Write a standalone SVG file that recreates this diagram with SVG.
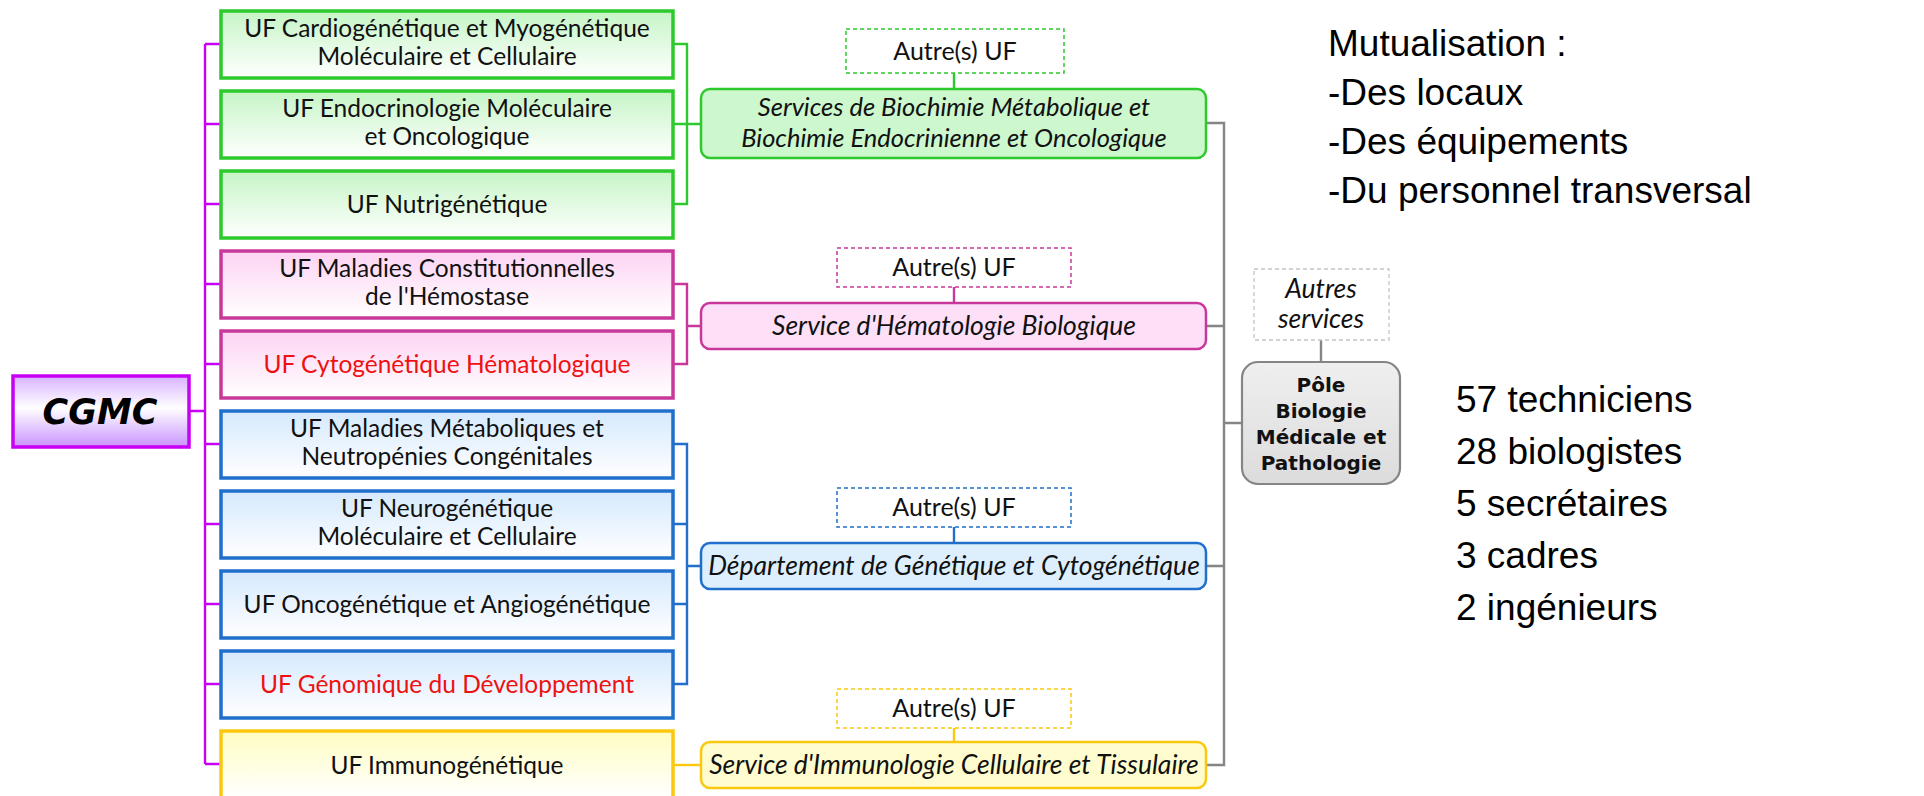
<svg xmlns="http://www.w3.org/2000/svg" width="1924" height="796" viewBox="0 0 1924 796">
<defs>
<linearGradient id="gGreen" x1="0" y1="0" x2="0" y2="1"><stop offset="0" stop-color="#C6F5C6"/><stop offset="1" stop-color="#FFFFFF"/></linearGradient>
<linearGradient id="gPink" x1="0" y1="0" x2="0" y2="1"><stop offset="0" stop-color="#FDD3F3"/><stop offset="1" stop-color="#FFFFFF"/></linearGradient>
<linearGradient id="gBlue" x1="0" y1="0" x2="0" y2="1"><stop offset="0" stop-color="#D5E9FD"/><stop offset="1" stop-color="#FFFFFF"/></linearGradient>
<linearGradient id="gYellow" x1="0" y1="0" x2="0" y2="1"><stop offset="0" stop-color="#FFFDC2"/><stop offset="1" stop-color="#FFFFFF"/></linearGradient>
<linearGradient id="gCGMC" x1="0" y1="0" x2="0" y2="1"><stop offset="0" stop-color="#D8B2FF"/><stop offset="0.45" stop-color="#FFFFFF"/><stop offset="1" stop-color="#C993FF"/></linearGradient>
<linearGradient id="gPole" x1="0" y1="0" x2="0" y2="1"><stop offset="0" stop-color="#EFEFEF"/><stop offset="1" stop-color="#DCDCDC"/></linearGradient>
</defs>
<style>
.uf{stroke-width:3.5}
.ufg{fill:url(#gGreen);stroke:#2DC92D}
.ufp{fill:url(#gPink);stroke:#C8389B}
.ufb{fill:url(#gBlue);stroke:#1F6FCB}
.ufy{fill:url(#gYellow);stroke:#FAC80F}
.t{font-family:Lato,"Open Sans",sans-serif;font-size:24.5px;fill:#111;text-anchor:middle}
.a{font-size:25px}
.red{fill:#EE1111}
.ti{font-family:Lato,"Open Sans",sans-serif;font-style:italic;font-size:26.5px;fill:#111;text-anchor:middle}
.ti2{font-size:25.5px}
.svc{stroke-width:2.5}
.sg{fill:#CDF7CD;stroke:#2DC92D}
.sp{fill:#FDE0F7;stroke:#C8389B}
.sb{fill:#DDEEFD;stroke:#1F6FCB}
.sy{fill:#FFFDCF;stroke:#FAC80F}
.dash{fill:#FFFFFF;stroke-width:1.5;stroke-dasharray:4 3}
.big{font-family:"Liberation Sans",Arial,sans-serif;font-size:37px;fill:#000}
.ln{fill:none;stroke-width:2.4}
.mag{stroke:#C800F5}
.lg{stroke:#2DC92D}
.lp{stroke:#C8389B}
.lb{stroke:#1F6FCB}
.ly{stroke:#FAC80F}
.gray{stroke:#858585}
</style>

<g id="connectors">
<path class="ln mag" d="M205 44V764M205 44H221M205 124H221M205 204H221M205 284H221M205 364H221M205 444H221M205 524H221M205 604H221M205 684H221M205 764H221M189 411H205"/>
<path class="ln lg" d="M673 44H687V204H673M673 124H701"/>
<path class="ln lp" d="M673 284H687V364H673M687 326H701"/>
<path class="ln lb" d="M673 444H687V684H673M673 524H687M673 604H687M687 566H701"/>
<path class="ln ly" d="M673 765H701"/>
<path class="ln lg" d="M954 73V89"/>
<path class="ln lp" d="M954 287V303"/>
<path class="ln lb" d="M954 527V543"/>
<path class="ln ly" d="M954 728V742"/>
<path class="ln gray" d="M1206 123H1224V765H1206M1206 326H1224M1206 566H1224M1224 423H1242M1321 340V362"/>
</g>

<g id="cgmc">
<rect x="13" y="376" width="176" height="71" fill="url(#gCGMC)" stroke="#C800F5" stroke-width="3.5"/>
<text x="100" y="424" font-family="'DejaVu Sans',sans-serif" font-weight="bold" font-style="italic" font-size="35" text-anchor="middle" fill="#000">CGMC</text>
</g>

<g id="uf1"><rect class="uf ufg" x="221" y="11" width="452" height="67"/><text class="t" x="447" y="37">UF Cardiogénétique et Myogénétique</text><text class="t" x="447" y="65">Moléculaire et Cellulaire</text></g>
<g id="uf2"><rect class="uf ufg" x="221" y="91" width="452" height="67"/><text class="t" x="447" y="117">UF Endocrinologie Moléculaire</text><text class="t" x="447" y="145">et Oncologique</text></g>
<g id="uf3"><rect class="uf ufg" x="221" y="171" width="452" height="67"/><text class="t" x="447" y="213">UF Nutrigénétique</text></g>
<g id="uf4"><rect class="uf ufp" x="221" y="251" width="452" height="67"/><text class="t" x="447" y="277">UF Maladies Constitutionnelles</text><text class="t" x="447" y="305">de l'Hémostase</text></g>
<g id="uf5"><rect class="uf ufp" x="221" y="331" width="452" height="67"/><text class="t red" x="447" y="373">UF Cytogénétique Hématologique</text></g>
<g id="uf6"><rect class="uf ufb" x="221" y="411" width="452" height="67"/><text class="t" x="447" y="437">UF Maladies Métaboliques et</text><text class="t" x="447" y="465">Neutropénies Congénitales</text></g>
<g id="uf7"><rect class="uf ufb" x="221" y="491" width="452" height="67"/><text class="t" x="447" y="517">UF Neurogénétique</text><text class="t" x="447" y="545">Moléculaire et Cellulaire</text></g>
<g id="uf8"><rect class="uf ufb" x="221" y="571" width="452" height="67"/><text class="t" x="447" y="613">UF Oncogénétique et Angiogénétique</text></g>
<g id="uf9"><rect class="uf ufb" x="221" y="651" width="452" height="67"/><text class="t red" x="447" y="693">UF Génomique du Développement</text></g>
<g id="uf10"><rect class="uf ufy" x="221" y="731" width="452" height="68"/><text class="t" x="447" y="774">UF Immunogénétique</text></g>

<g id="autre1"><rect class="dash" x="846" y="29" width="218" height="44" stroke="#2DC92D"/><text class="t a" x="955" y="60">Autre(s) UF</text></g>
<g id="autre2"><rect class="dash" x="837" y="248" width="234" height="39" stroke="#C8389B"/><text class="t a" x="954" y="276">Autre(s) UF</text></g>
<g id="autre3"><rect class="dash" x="837" y="488" width="234" height="39" stroke="#1F6FCB"/><text class="t a" x="954" y="516">Autre(s) UF</text></g>
<g id="autre4"><rect class="dash" x="837" y="689" width="234" height="39" stroke="#FAC80F"/><text class="t a" x="954" y="717">Autre(s) UF</text></g>

<g id="svc1"><rect class="svc sg" x="701" y="89" width="505" height="69" rx="9"/><text class="ti ti2" x="954" y="116">Services de Biochimie Métabolique et</text><text class="ti ti2" x="954" y="147">Biochimie Endocrinienne et Oncologique</text></g>
<g id="svc2"><rect class="svc sp" x="701" y="303" width="505" height="46" rx="9"/><text class="ti" x="954" y="335">Service d'Hématologie Biologique</text></g>
<g id="svc3"><rect class="svc sb" x="701" y="543" width="505" height="46" rx="9"/><text class="ti" x="954" y="575">Département de Génétique et Cytogénétique</text></g>
<g id="svc4"><rect class="svc sy" x="701" y="742" width="505" height="46" rx="9"/><text class="ti" x="954" y="774">Service d'Immunologie Cellulaire et Tissulaire</text></g>

<g id="autres-services"><rect x="1254" y="269" width="135" height="71" fill="#FFFFFF" stroke="#C4C4C4" stroke-width="1.3" stroke-dasharray="4 3"/><text class="ti" x="1321" y="298" font-size="20.5">Autres</text><text class="ti" x="1321" y="328" font-size="20.5">services</text></g>

<g id="pole"><rect x="1242" y="362" width="158" height="122" rx="16" fill="url(#gPole)" stroke="#858585" stroke-width="2.2"/>
<g font-family="'DejaVu Sans',sans-serif" font-weight="bold" font-size="20" text-anchor="middle" fill="#111">
<text x="1321" y="392">Pôle</text><text x="1321" y="418">Biologie</text><text x="1321" y="444">Médicale et</text><text x="1321" y="470">Pathologie</text></g></g>

<g id="mutualisation">
<text class="big" x="1328" y="56">Mutualisation :</text>
<text class="big" x="1328" y="105">-Des locaux</text>
<text class="big" x="1328" y="154">-Des équipements</text>
<text class="big" x="1328" y="203">-Du personnel transversal</text>
</g>
<g id="effectifs">
<text class="big" x="1456" y="412">57 techniciens</text>
<text class="big" x="1456" y="464">28 biologistes</text>
<text class="big" x="1456" y="516">5 secrétaires</text>
<text class="big" x="1456" y="568">3 cadres</text>
<text class="big" x="1456" y="620">2 ingénieurs</text>
</g>
</svg>
